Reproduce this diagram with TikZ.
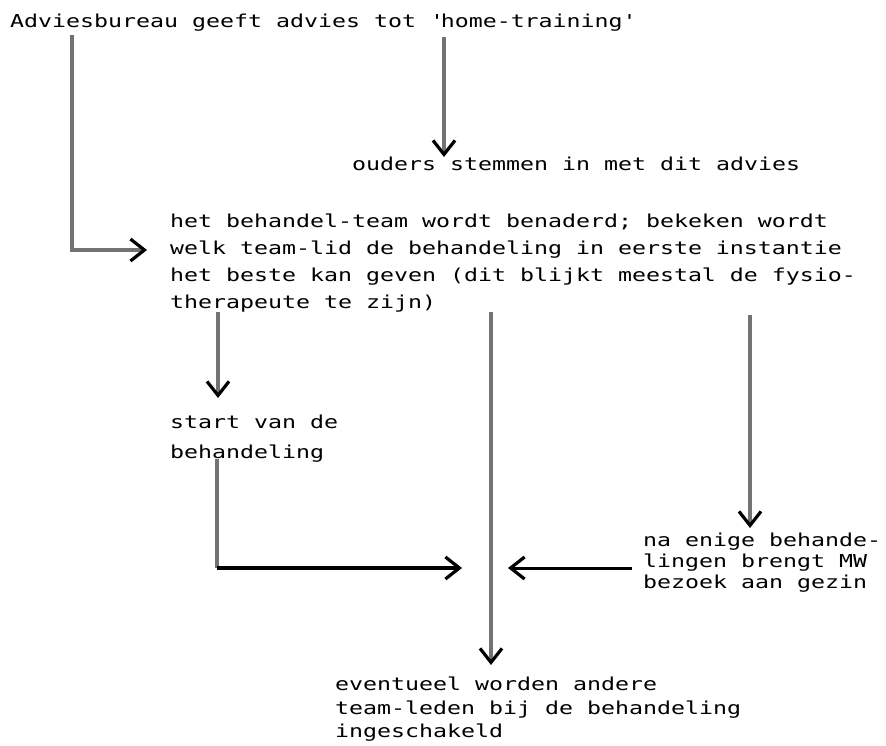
\documentclass[tikz,border=0pt]{standalone}
\usepackage{fontspec}
\newfontfamily\typewr[FakeStretch=1.306]{DejaVu Sans Mono}
\usetikzlibrary{arrows.meta}

\tikzset{
  % base anchor of a multi-line node is the baseline of its last line
  txt/.style={anchor=base west, inner sep=0pt, align=left},
  spacing/.style={font=\typewr\fontsize{17.8pt}{#1pt}\selectfont},
  head/.style={-{Straight Barb[length=14pt,width=22pt,line width=3.2pt,black]}},
  shaft/.style={draw=black!55, line width=3.4pt},
  flow/.style={shaft, head},
  heavyflow/.style={draw=black, line width=4pt, head}
}

\begin{document}
\begin{tikzpicture}[x=1pt,y=-1pt]
\path[use as bounding box, fill=white] (0,0) rectangle (886,746);

% text blocks
\node[txt, spacing=27] (top) at (10,28)
  {Adviesbureau geeft advies tot \textquotesingle home-training\textquotesingle};
\node[txt, spacing=27] (ouders) at (352,170.5) {ouders stemmen in met dit advies};
\node[txt, spacing=27] (team) at (170,308.5)
  {het behandel-team wordt benaderd; bekeken wordt\\
   welk team-lid de behandeling in eerste instantie\\
   het beste kan geven (dit blijkt meestal de fysio-\\
   therapeute te zijn)};
\node[txt, spacing=30] (start) at (170,458.5) {start van de\\behandeling};
\node[txt, spacing=21] (mw) at (643,588.5) {na enige behande-\\lingen brengt MW\\bezoek aan gezin};
\node[txt, spacing=23.5] (bottom) at (335,737.5)
  {eventueel worden andere\\team-leden bij de behandeling\\ingeschakeld};

% meeting point on the long middle line
\coordinate (join) at (491,568);

% connectors
\draw[flow] ([xshift=62pt,yshift=-7pt]top.base west)
  |- ([xshift=-23pt,yshift=58.5pt]team.base west);
\draw[flow] ([xshift=434pt,yshift=-9pt]top.base west)
  -- ([xshift=92pt,yshift=13.5pt]ouders.base west);
\draw[flow] ([xshift=48pt]team.south west)
  -- ([xshift=48pt,yshift=60.5pt]start.base west);
\draw[flow] ([xshift=321pt]team.south west)
  -- ([xshift=156pt,yshift=72.5pt]bottom.base west);
\draw[flow] ([xshift=580pt,yshift=-3pt]team.south west)
  -- ([xshift=107pt,yshift=60.5pt]mw.base west);
\draw[shaft] ([xshift=47pt]start.base west)
  -- ([xshift=47pt]start.base west |- join);
\draw[heavyflow] ([xshift=47pt]start.base west |- join) -- ([xshift=-29pt]join);
\draw[draw=black, line width=3pt, head] ([xshift=-11pt,yshift=20.5pt]mw.base west)
  -- ([xshift=17pt]join);
\end{tikzpicture}
\end{document}
